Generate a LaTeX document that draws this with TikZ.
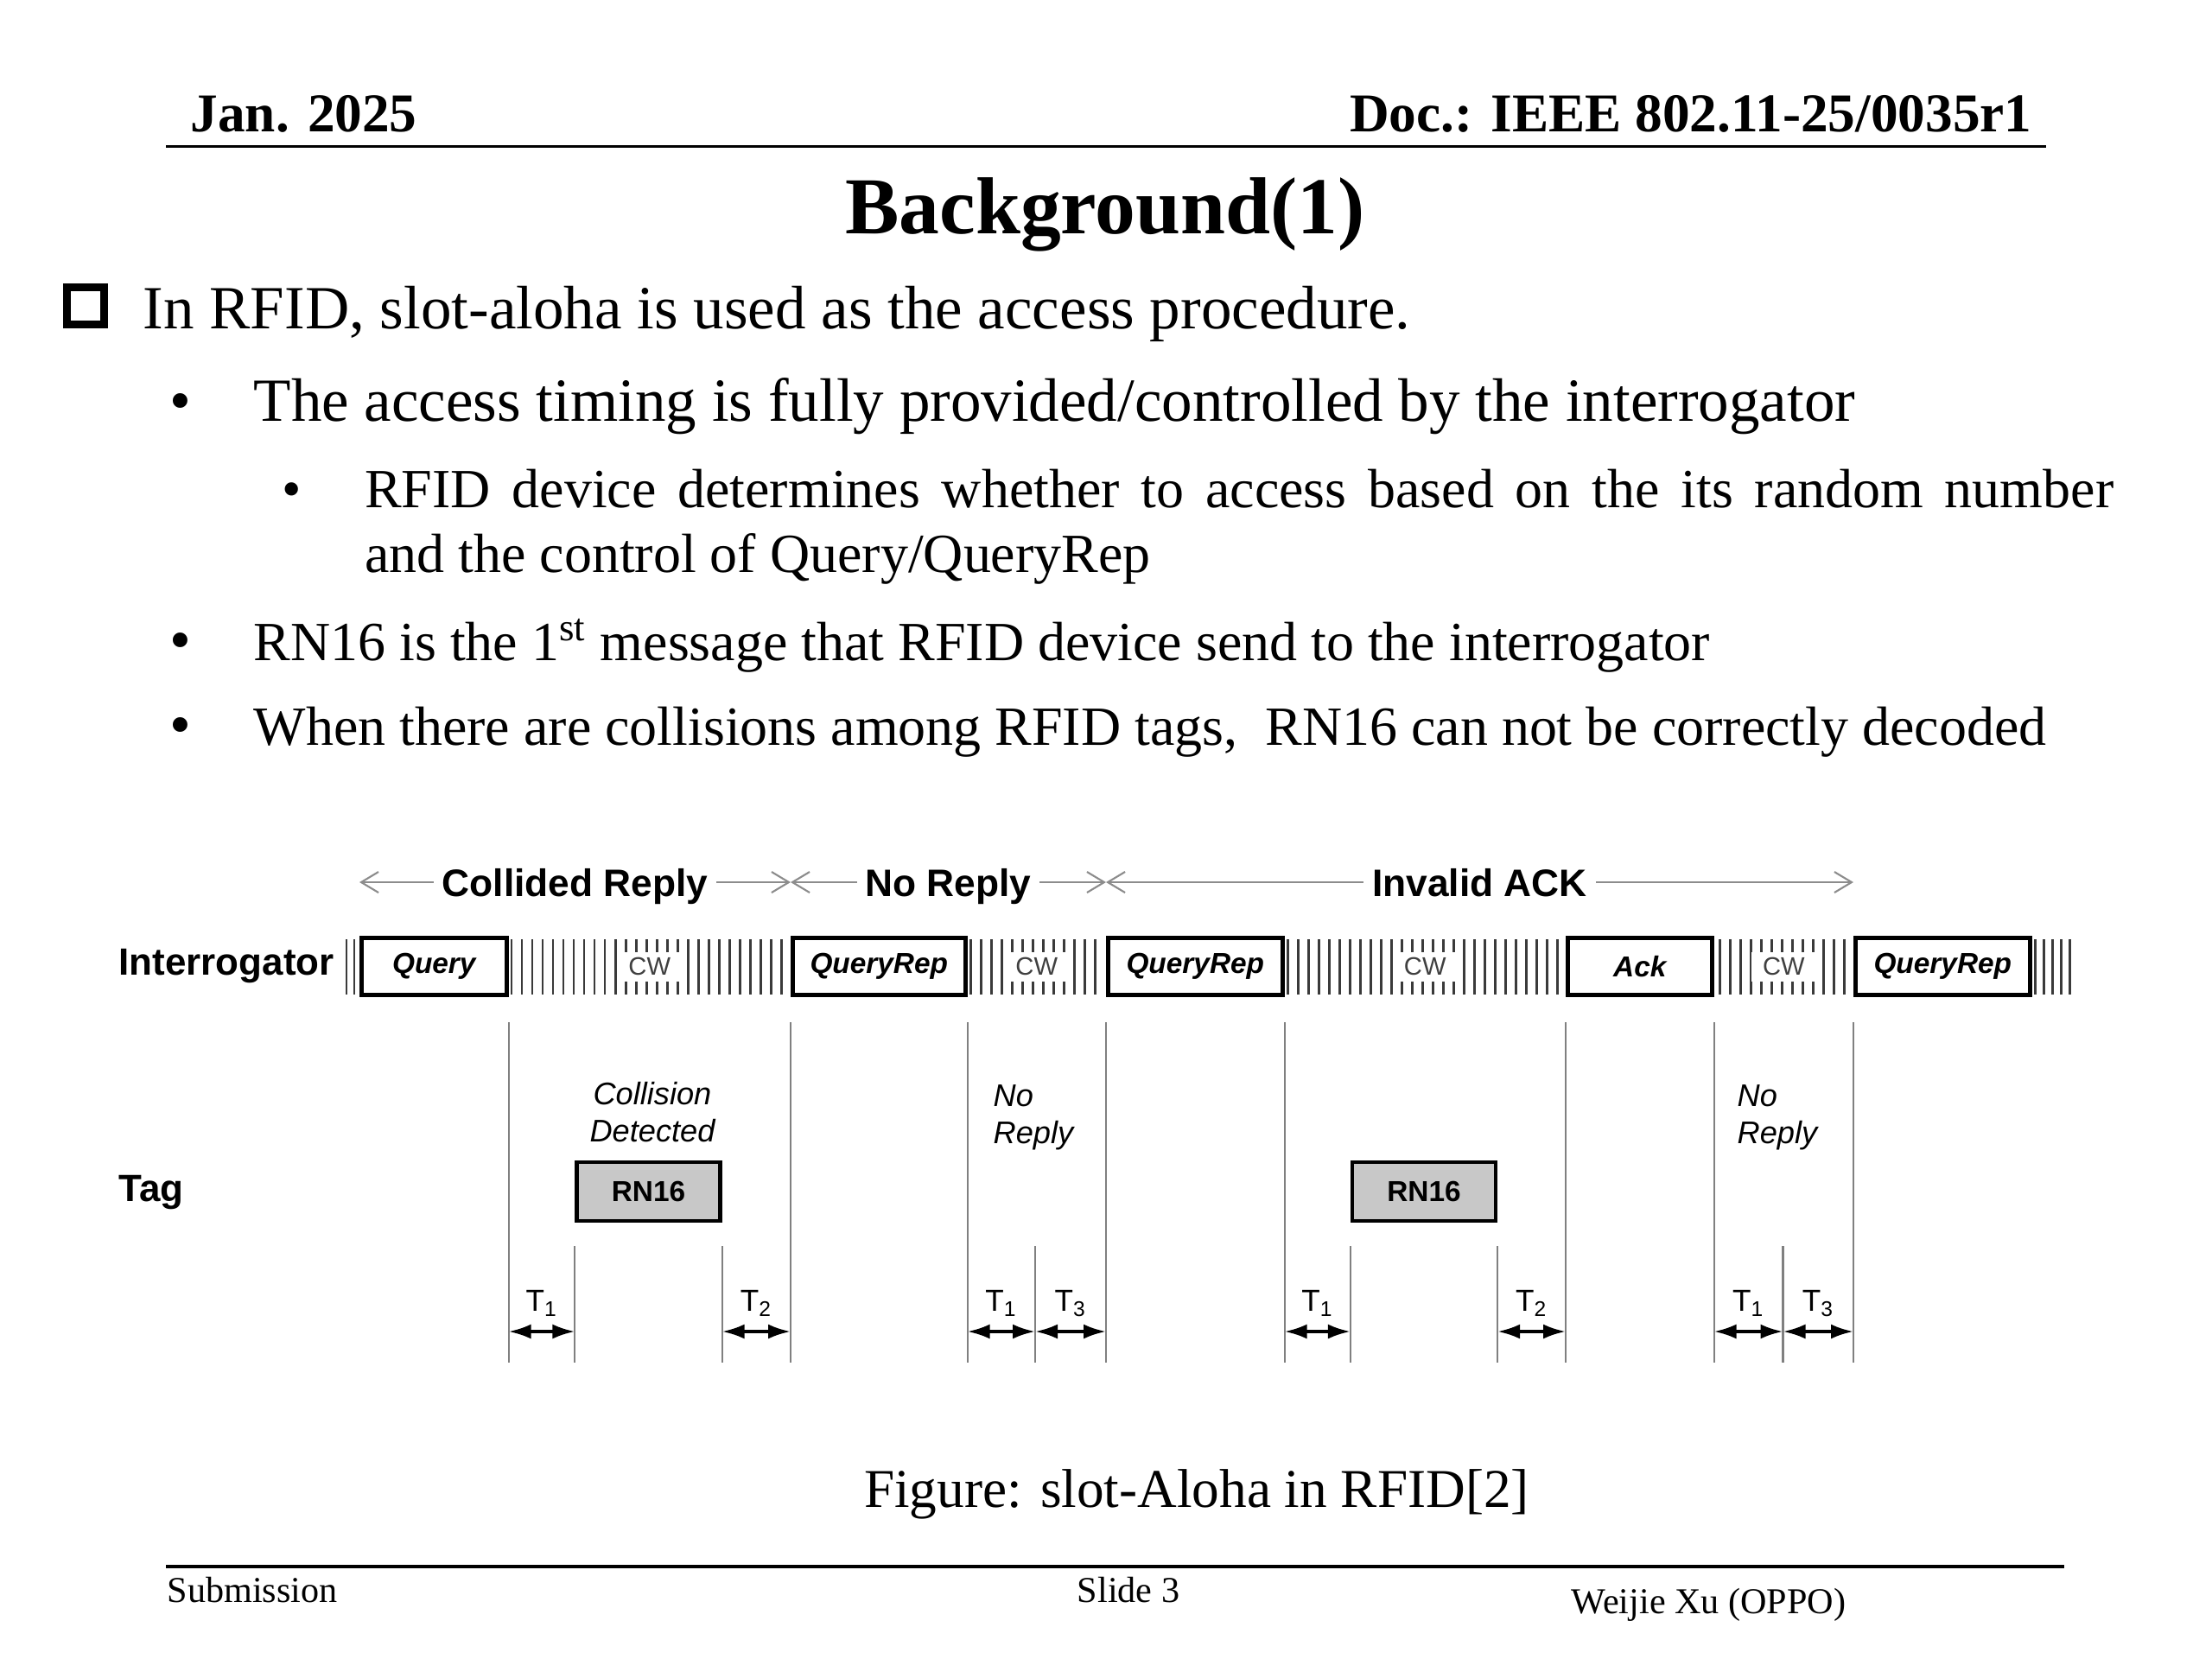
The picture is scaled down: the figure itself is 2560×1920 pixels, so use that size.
\documentclass[tikz,border=0pt]{standalone}
\usepackage{fontspec}
\setmainfont{Liberation Serif}
\newfontfamily\figfont{Liberation Sans}
\usepackage{xcolor}
\definecolor{hatchGray}{HTML}{3A3A3A}
\definecolor{tickGray}{HTML}{808080}
\definecolor{spanGray}{HTML}{8C8C8C}
\definecolor{rnFill}{HTML}{C8C8C8}
\usepackage{tikz}
\usetikzlibrary{arrows.meta,positioning,calc}
\tikzset{%
  msgBox/.style={%
    rectangle,
    draw=black,
    line width=1.3pt,
    fill=white,
    minimum height=6.6mm,
    inner sep=0pt,
    anchor=west,
    font=\figfont\bfseries\itshape\fontsize{9.5}{11}\selectfont
  },
  rnBox/.style={%
    rectangle,
    draw=black,
    line width=1.2pt,
    fill=rnFill,
    minimum width=16.6mm,
    minimum height=6.8mm,
    inner sep=0pt,
    font=\figfont\bfseries\fontsize{9.5}{11}\selectfont
  },
  cwLabel/.style={%
    fill=white,
    inner sep=0pt,
    minimum width=7.4mm,
    minimum height=3.4mm,
    text=black!75,
    font=\figfont\fontsize{8.3}{10}\selectfont
  },
  hatchLine/.style={draw=hatchGray, line width=0.85pt},
  tickLine/.style={draw=tickGray, line width=0.6pt},
  spanArrow/.style={%
    {Straight Barb[length=2mm,width=2.4mm]}-{Straight Barb[length=2mm,width=2.4mm]},
    draw=spanGray,
    line width=0.6pt
  },
  spanLabel/.style={%
    fill=white,
    inner xsep=1mm,
    inner ysep=0.4mm,
    text height=3.2mm,
    text depth=0pt,
    text=black,
    font=\figfont\bfseries\fontsize{12.6}{15}\selectfont
  },
  timeArrow/.style={%
    {Latex[length=2.6mm,width=1.7mm]}-{Latex[length=2.6mm,width=1.7mm]},
    line width=1pt,
    color=black
  },
  timeLabel/.style={above=1.6mm, inner sep=0pt, font=\figfont\fontsize{10}{12}\selectfont},
  rowLabel/.style={anchor=base west, inner sep=0pt, font=\figfont\bfseries\fontsize{12.5}{15}\selectfont},
  noteText/.style={anchor=base west, align=left, inner sep=0pt, font=\figfont\itshape\fontsize{10.3}{12}\selectfont},
  bodyText/.style={anchor=base west, inner sep=0pt, font=\fontsize{20.2}{24}\selectfont},
  subText/.style={anchor=base west, inner sep=0pt, font=\fontsize{18.2}{21.6}\selectfont},
  footText/.style={inner sep=0pt, font=\fontsize{12}{14}\selectfont}
}

\begin{document}
\begin{tikzpicture}[x=0.1mm, y=-0.1mm]
\fill[white] (0,0) rectangle (2560,1920);
\useasboundingbox (0,0) rectangle (2560,1920);

\node[anchor=base west, inner sep=0pt, font=\bfseries\fontsize{18}{22}\selectfont] (date) at (220,152) {Jan. 2025};
\node[anchor=base east, inner sep=0pt, font=\bfseries\fontsize{18}{22}\selectfont] (docid) at (2352,152) {Doc.: IEEE 802.11-25/0035r1};
\draw[line width=1pt] (192,169.5) -- (2368,169.5);
\node[anchor=base, inner sep=0pt, font=\bfseries\fontsize{26.6}{32}\selectfont] (title) at (1279,270.5) {Background(1)};

\draw[line width=2.5pt] (77.5,332.5) rectangle (120.5,375.5);
\node[bodyText] (lvlA) at (165,380) {In RFID, slot-aloha is used as the access procedure.};
\node[bodyText] (dotA) at (196,487) {\textbullet};
\node[bodyText] (lvlB) at (293,487) {The access timing is fully provided/controlled by the interrogator};
\node[subText] (dotB) at (326,587) {\textbullet};
\node[subText, text width=202.4mm, align=justify] (lvlC) at (421.5,587) {RFID device determines whether to access based on the its random number\linebreak and the control of Query/QueryRep};
\node[bodyText] (dotC) at (196,764) {\textbullet};
\node[subText] (lvlD) at (293,764) {RN16 is the 1\textsuperscript{st} message that RFID device send to the interrogator};
\node[bodyText] (dotD) at (196,862) {\textbullet};
\node[subText] (lvlE) at (293,862) {When there are collisions among RFID tags, \ RN16 can not be correctly decoded};

\node[msgBox, minimum width=16.8mm] (query) at (416,1118.5) {Query};
\node[msgBox, minimum width=20.0mm] (qrepA) at (915,1118.5) {QueryRep};
\node[msgBox, minimum width=20.2mm] (qrepB) at (1280,1118.5) {QueryRep};
\node[msgBox, minimum width=16.7mm] (ack) at (1812,1118.5) {Ack};
\node[msgBox, minimum width=20.2mm] (qrepC) at (2145,1118.5) {QueryRep};

\foreach \a/\b in {584/915,1115/1280,1482/1812,1982/2145}{
  \pgfmathsetmacro\xs{\a+8}
  \pgfmathsetmacro\xt{\a+20}
  \pgfmathsetmacro\xe{\b-4}
  \foreach \x in {\xs,\xt,...,\xe}
    \draw[hatchLine] (\x,1087) -- (\x,1151);
}
\foreach \x in {401,410,2355,2365,...,2395}
  \draw[hatchLine] (\x,1087) -- (\x,1151);

\node[cwLabel] (cwA) at ($(query.east)!0.5!(qrepA.west)$) {CW};
\node[cwLabel] (cwB) at ($(qrepA.east)!0.5!(qrepB.west)$) {CW};
\node[cwLabel] (cwC) at ($(qrepB.east)!0.5!(ack.west)$) {CW};
\node[cwLabel] (cwD) at ($(ack.east)!0.5!(qrepC.west)$) {CW};

\node[rowLabel] (interr) at (137,1128) {Interrogator};
\node[rowLabel] (tag) at (137,1390) {Tag};

\coordinate (spanY) at (0,1021);
\draw[spanArrow] (query.west |- spanY) -- node[spanLabel] {Collided Reply} (qrepA.west |- spanY);
\draw[spanArrow] (qrepA.west |- spanY) -- node[spanLabel] {No Reply} (qrepB.west |- spanY);
\draw[spanArrow] (qrepB.west |- spanY) -- node[spanLabel] {Invalid ACK} (qrepC.west |- spanY);

\node[rnBox] (rnA) at (750.5,1379) {RN16};
\node[rnBox] (rnB) at (1648,1379) {RN16};

\coordinate (tickTop) at (0,1183);
\coordinate (shortTop) at (0,1442);
\coordinate (tickBot) at (0,1577);
\coordinate (timeY) at (0,1541);
\coordinate (gapA) at (1198,1442);
\coordinate (gapB) at (2063.5,1442);

\foreach \n in {query.east,qrepA.west,qrepA.east,qrepB.west,qrepB.east,ack.west,ack.east,qrepC.west}
  \draw[tickLine] (\n |- tickTop) -- (\n |- tickBot);
\foreach \n in {rnA.west,rnA.east,gapA,rnB.west,rnB.east,gapB}
  \draw[tickLine] (\n |- shortTop) -- (\n |- tickBot);

\draw[timeArrow] (query.east |- timeY) -- node[timeLabel] {T\textsubscript{1}} (rnA.west |- timeY);
\draw[timeArrow] (rnA.east |- timeY) -- node[timeLabel] {T\textsubscript{2}} (qrepA.west |- timeY);
\draw[timeArrow] (qrepA.east |- timeY) -- node[timeLabel] {T\textsubscript{1}} (gapA |- timeY);
\draw[timeArrow] (gapA |- timeY) -- node[timeLabel] {T\textsubscript{3}} (qrepB.west |- timeY);
\draw[timeArrow] (qrepB.east |- timeY) -- node[timeLabel] {T\textsubscript{1}} (rnB.west |- timeY);
\draw[timeArrow] (rnB.east |- timeY) -- node[timeLabel] {T\textsubscript{2}} (ack.west |- timeY);
\draw[timeArrow] (ack.east |- timeY) -- node[timeLabel] {T\textsubscript{1}} (gapB |- timeY);
\draw[timeArrow] (gapB |- timeY) -- node[timeLabel] {T\textsubscript{3}} (qrepC.west |- timeY);

\node[noteText, align=center, anchor=base] (collNote) at (755,1321) {Collision\\Detected};
\node[noteText] (noteA) at (1149,1323) {No\\Reply};
\node[noteText] (noteB) at (2010,1323) {No\\Reply};

\node[anchor=base, inner sep=0pt, font=\fontsize{18}{22}\selectfont] (caption) at (1385,1744) {Figure: slot-Aloha in RFID[2]};

\draw[line width=1pt] (192,1813) -- (2389,1813);
\node[footText, anchor=base west] (submit) at (193,1854) {Submission};
\node[footText, anchor=base] (slide) at (1306,1854) {Slide 3};
\node[footText, anchor=base west] (author) at (1818,1867) {Weijie Xu (OPPO)};
\end{tikzpicture}
\end{document}
